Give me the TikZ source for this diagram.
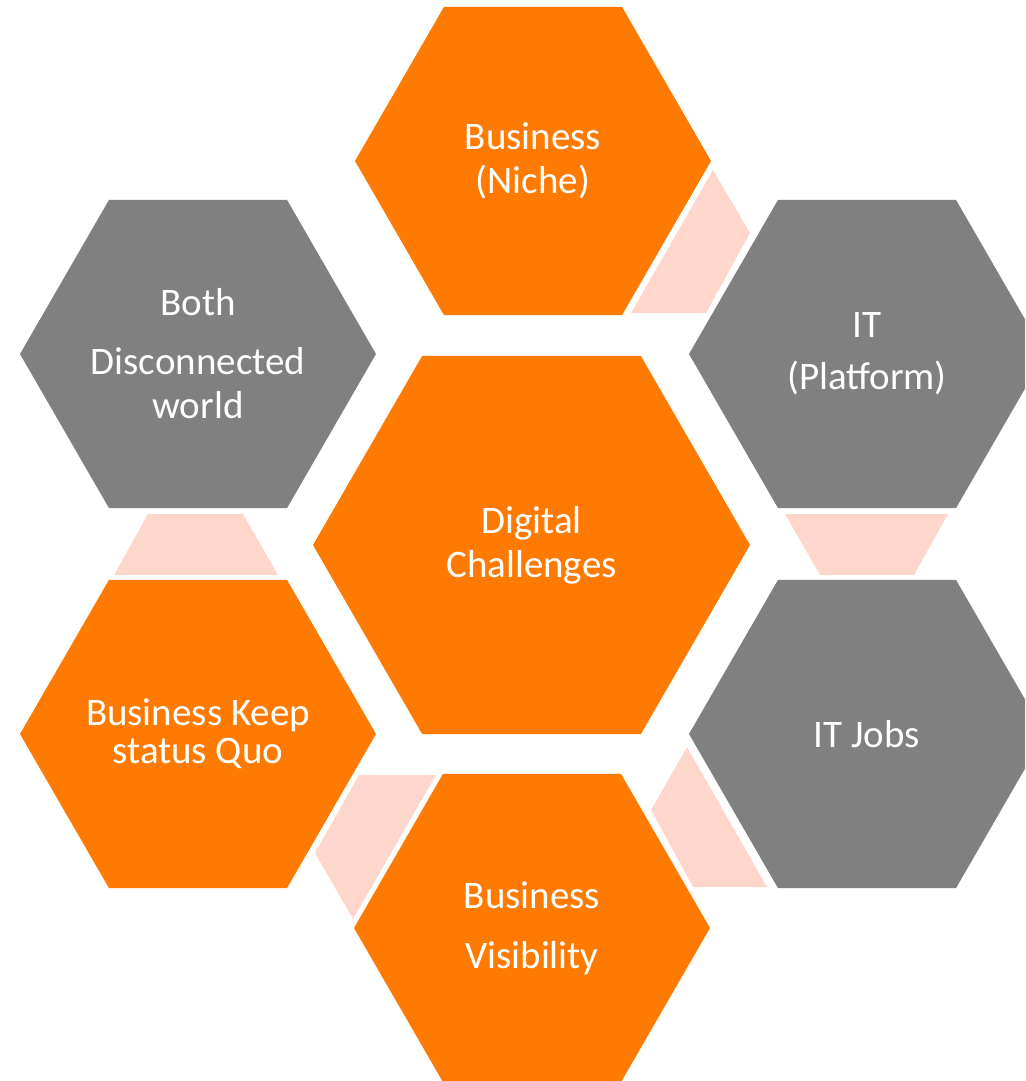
\documentclass[tikz,border=0pt]{standalone}
\usepackage{fontspec}
\setmainfont{Carlito}
\usetikzlibrary{shapes.geometric}
\definecolor{hexorange}{RGB}{255,122,0}
\definecolor{hexgray}{RGB}{128,128,128}
\definecolor{hexpink}{RGB}{255,214,204}
\begin{document}
\begin{tikzpicture}[x=1pt,y=-1pt,
  hexbox/.style={regular polygon, regular polygon sides=6,
    minimum size=356pt, inner sep=-30pt, outer sep=0pt, text=white, align=center,
    font=\fontsize{39}{44}\selectfont},
  orangehex/.style={hexbox, fill=hexorange},
  grayhex/.style={hexbox, fill=hexgray},
  linkshape/.style={fill=hexpink}]
\useasboundingbox (0,0) rectangle (1025,1081);
\clip (0,0) rectangle (1025,1081);

% pink links
\fill[linkshape] (631,313) -- (713,170) -- (750,233) -- (706,313) -- cycle;
\fill[linkshape] (785,514) -- (948,514) -- (914,575) -- (820,575) -- cycle;
\fill[linkshape] (687,747) -- (767,887) -- (693,887) -- (651,810) -- cycle;
\fill[linkshape] (359,775) -- (436,775) -- (353,919) -- (315,853) -- cycle;
\fill[linkshape] (148,514) -- (243,514) -- (278,575) -- (114,575) -- cycle;

% hexagons
\node[orangehex] (niche) at (533,161) {Business\\(Niche)};
\node[grayhex] (platform) at (867,354) {IT\\[8pt](Platform)};
\node[grayhex] (jobs) at (867,734) {IT Jobs};
\node[orangehex] (visib) at (532,928) {Business\\[16pt]Visibility};
\node[orangehex] (keep) at (198,734) {Business Keep\\[-6pt]status Quo};
\node[grayhex] (both) at (198,354) {Both\\[15pt]Disconnected\\world};
\node[orangehex, minimum size=437pt] (digital) at (531.5,545) {Digital\\Challenges};
\end{tikzpicture}
\end{document}
